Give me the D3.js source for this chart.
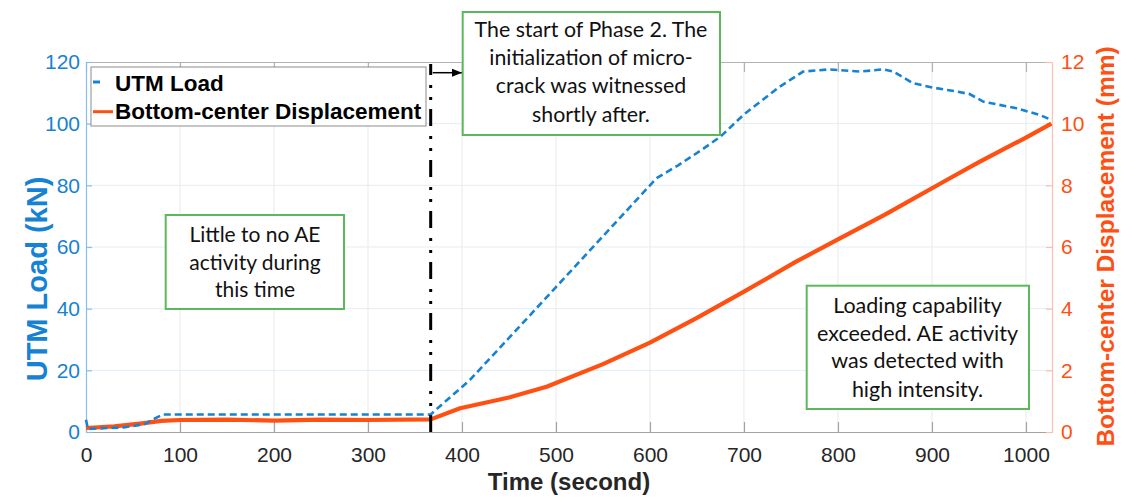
<!DOCTYPE html>
<html>
<head>
<meta charset="utf-8">
<script src="https://cdn.jsdelivr.net/npm/d3@7/dist/d3.min.js"></script>
<style>
  html, body { margin: 0; padding: 0; background: #fff; }
  svg { display: block; }
</style>
</head>
<body>
<svg id="chart" width="1122" height="497"></svg>
<script>
// ---- data -------------------------------------------------------------
// UTM load (kN) against time (s)
const loadTime = [0, 2, 40, 62, 72, 82, 366.7, 380, 400, 408.5, 450, 500, 550, 600, 607, 630, 655, 675, 700, 738, 763, 790, 823, 848, 859, 880, 901, 925, 940, 955, 990, 1015, 1027];
const loadKN   = [4.0, 1.0, 1.5, 2.5, 4.2, 5.7, 5.7, 9.3, 14.6, 16.9, 30.5, 47, 63.5, 80, 82.3, 86.5, 91.5, 95.8, 103, 112, 116.9, 117.6, 116.9, 117.6, 116.9, 113.1, 111.7, 110.5, 109.6, 107.1, 105, 102.8, 101.2];

// bottom-centre displacement (mm) against time (s)
const dispTime = [0, 30, 60, 80, 100, 150, 200, 250, 300, 366.7, 398, 450, 490, 550, 600, 650, 700, 754, 800, 850, 919, 950, 1000, 1027];
const dispMM   = [0.13, 0.18, 0.28, 0.36, 0.39, 0.40, 0.37, 0.40, 0.39, 0.41, 0.77, 1.12, 1.47, 2.2, 2.9, 3.7, 4.55, 5.5, 6.25, 7.05, 8.23, 8.75, 9.55, 10.0];

// axis ticks
const timeTicks  = [0, 100, 200, 300, 400, 500, 600, 700, 800, 900, 1000];
const loadTicks  = [0, 20, 40, 60, 80, 100, 120];
const dispTicks  = [0, 2, 4, 6, 8, 10, 12];

// phase boundary
const phase2Start = 366.7;

// series names and annotation texts
const seriesNames = ["UTM Load", "Bottom-center Displacement"];
const notePhase2 = ["The start of Phase 2. The", "initialization of micro-", "crack was witnessed", "shortly after."];
const noteQuiet  = ["Little to no AE", "activity during", "this time"];
const noteLoad   = ["Loading capability", "exceeded. AE activity", "was detected with", "high intensity."];

// ---- layout -----------------------------------------------------------
const W = 1122, H = 497;
const plot = { left: 86, right: 1052, top: 62, bottom: 432 };
const blue = "#1682d4", orange = "#ff5014", green = "#5cb85a";
const sans = "'Liberation Sans', Arial, Helvetica, sans-serif";
const noteFont = "Lato, 'Open Sans', sans-serif";

const svg = d3.select("#chart");
svg.append("rect").attr("width", W).attr("height", H).attr("fill", "#fff");

const x = d3.scaleLinear().domain([0, 1027.7]).range([plot.left, plot.right]);
const yL = d3.scaleLinear().domain([0, 120]).range([plot.bottom, plot.top]);
const yR = d3.scaleLinear().domain([0, 12]).range([plot.bottom, plot.top]);

// ---- grid -------------------------------------------------------------
const grid = svg.append("g");
grid.selectAll("line.vx").data(timeTicks.filter(d => d > 0)).join("line")
  .attr("x1", d => x(d)).attr("x2", d => x(d))
  .attr("y1", plot.top).attr("y2", plot.bottom)
  .attr("stroke", "#e9e9e9").attr("stroke-width", 1);
grid.selectAll("line.hy").data(loadTicks.filter(d => d > 0 && d < 120)).join("line")
  .attr("x1", plot.left).attr("x2", plot.right)
  .attr("y1", d => yL(d)).attr("y2", d => yL(d))
  .attr("stroke", "#e4edf6").attr("stroke-width", 1);

// ---- axes -------------------------------------------------------------
function styleAxis(g, lineColor, textColor) {
  g.select(".domain").attr("stroke", lineColor).attr("stroke-width", 1.2);
  g.selectAll(".tick line").attr("stroke", lineColor).attr("stroke-width", 1.2);
  g.selectAll(".tick text").attr("fill", textColor)
    .style("font-family", sans).style("font-size", "21px");
}

const fmt = d3.format("d");

const xAxis = svg.append("g").attr("transform", `translate(0,${plot.bottom})`)
  .call(d3.axisBottom(x).tickValues(timeTicks).tickFormat(fmt).tickSizeInner(-10).tickSizeOuter(0).tickPadding(15));
styleAxis(xAxis, "#a3a3a3", "#262626");

const xTop = svg.append("g").attr("transform", `translate(0,${plot.top})`)
  .call(d3.axisTop(x).tickValues(timeTicks).tickSizeInner(-10).tickSizeOuter(0).tickFormat(""));
styleAxis(xTop, "#b3b3b3", "#262626");

const yAxisL = svg.append("g").attr("transform", `translate(${plot.left},0)`)
  .call(d3.axisLeft(yL).tickValues(loadTicks).tickFormat(fmt).tickSizeInner(-6).tickSizeOuter(0).tickPadding(6));
styleAxis(yAxisL, "#86c0ea", blue);

const yAxisR = svg.append("g").attr("transform", `translate(${plot.right},0)`)
  .call(d3.axisRight(yR).tickValues(dispTicks).tickFormat(fmt).tickSizeInner(-6).tickSizeOuter(0).tickPadding(9));
styleAxis(yAxisR, "#ffbfa8", orange);

// axis titles
svg.append("text").text("Time (second)")
  .attr("x", (plot.left + plot.right) / 2).attr("y", 490)
  .attr("text-anchor", "middle").attr("fill", "#262626")
  .style("font-family", sans).style("font-weight", "bold").style("font-size", "24px");

svg.append("text").text("UTM Load (kN)")
  .attr("transform", `translate(47,${(plot.top + plot.bottom) / 2 + 32}) rotate(-90)`)
  .attr("text-anchor", "middle").attr("fill", blue)
  .style("font-family", sans).style("font-weight", "bold").style("font-size", "29px");

svg.append("text").text("Bottom-center Displacement (mm)")
  .attr("transform", `translate(1114,246.5) rotate(-90)`)
  .attr("text-anchor", "middle").attr("fill", orange)
  .style("font-family", sans).style("font-weight", "bold").style("font-size", "24.5px");

// ---- series -----------------------------------------------------------
const loadPts = loadTime.map((t, i) => [t, loadKN[i]]);
const dispPts = dispTime.map((t, i) => [t, dispMM[i]]);

svg.append("path").datum(dispPts)
  .attr("d", d3.line().x(d => x(d[0])).y(d => yR(d[1])))
  .attr("fill", "none").attr("stroke", orange).attr("stroke-width", 4.2)
  .attr("stroke-linejoin", "round");

svg.append("path").datum(loadPts)
  .attr("d", d3.line().x(d => x(d[0])).y(d => yL(d[1])))
  .attr("fill", "none").attr("stroke", blue).attr("stroke-width", 2.6)
  .attr("stroke-dasharray", "7 4");

// ---- phase boundary (dash-dot-dot line drawn upward from the axis) -----
svg.append("line")
  .attr("x1", x(phase2Start)).attr("x2", x(phase2Start))
  .attr("y1", plot.bottom).attr("y2", plot.top + 2)
  .attr("stroke", "#000").attr("stroke-width", 3)
  .attr("stroke-dasharray", "17 9 3 9 3 10");

// arrow pointing to the phase-2 note
const defs = svg.append("defs");
defs.append("marker").attr("id", "arrowHead")
  .attr("viewBox", "0 0 10 10").attr("refX", 10).attr("refY", 5)
  .attr("markerWidth", 7).attr("markerHeight", 7).attr("orient", "auto")
  .append("path").attr("d", "M0,1 L10,5 L0,9 Z").attr("fill", "#000");
svg.append("line")
  .attr("x1", x(phase2Start) + 2).attr("x2", 462)
  .attr("y1", 72.7).attr("y2", 72.7)
  .attr("stroke", "#000").attr("stroke-width", 1.5)
  .attr("marker-end", "url(#arrowHead)");

// ---- legend -----------------------------------------------------------
const leg = svg.append("g");
leg.append("rect").attr("x", 91).attr("y", 67).attr("width", 335).attr("height", 59)
  .attr("fill", "#fff").attr("stroke", "#8c8c8c").attr("stroke-width", 1);
leg.append("line").attr("x1", 93).attr("x2", 100).attr("y1", 82).attr("y2", 82)
  .attr("stroke", blue).attr("stroke-width", 3);
leg.append("line").attr("x1", 93).attr("x2", 113).attr("y1", 111.7).attr("y2", 111.7)
  .attr("stroke", orange).attr("stroke-width", 3);
leg.selectAll("text").data(seriesNames).join("text")
  .text(d => d)
  .attr("x", 115).attr("y", (d, i) => i === 0 ? 90.7 : 119)
  .attr("fill", "#000")
  .style("font-family", sans).style("font-weight", "bold").style("font-size", "22.5px");

// ---- notes ------------------------------------------------------------
function note(box, lines, baselines, cx, refIdx, refWidth) {
  const g = svg.append("g");
  g.append("rect").attr("x", box[0]).attr("y", box[1])
    .attr("width", box[2] - box[0]).attr("height", box[3] - box[1])
    .attr("fill", "#fff").attr("stroke", green).attr("stroke-width", 2);
  const t = g.selectAll("text").data(lines).join("text")
    .text(d => d)
    .attr("x", cx).attr("y", (d, i) => baselines[i])
    .attr("text-anchor", "middle").attr("fill", "#111")
    .style("font-family", noteFont).style("font-size", "20px");
  const w = t.nodes()[refIdx].getComputedTextLength();
  if (w > 0) t.style("font-size", (20 * refWidth / w) + "px");
}

note([462.7, 12, 720, 135], notePhase2, [36.7, 65, 93, 121.7], 591, 0, 233);
note([165.7, 215, 344, 309], noteQuiet, [241.7, 270, 297], 255, 0, 131);
note([806.7, 285.7, 1029, 409], noteLoad, [313, 341, 368, 396.7], 917.5, 1, 201);
</script>
</body>
</html>
